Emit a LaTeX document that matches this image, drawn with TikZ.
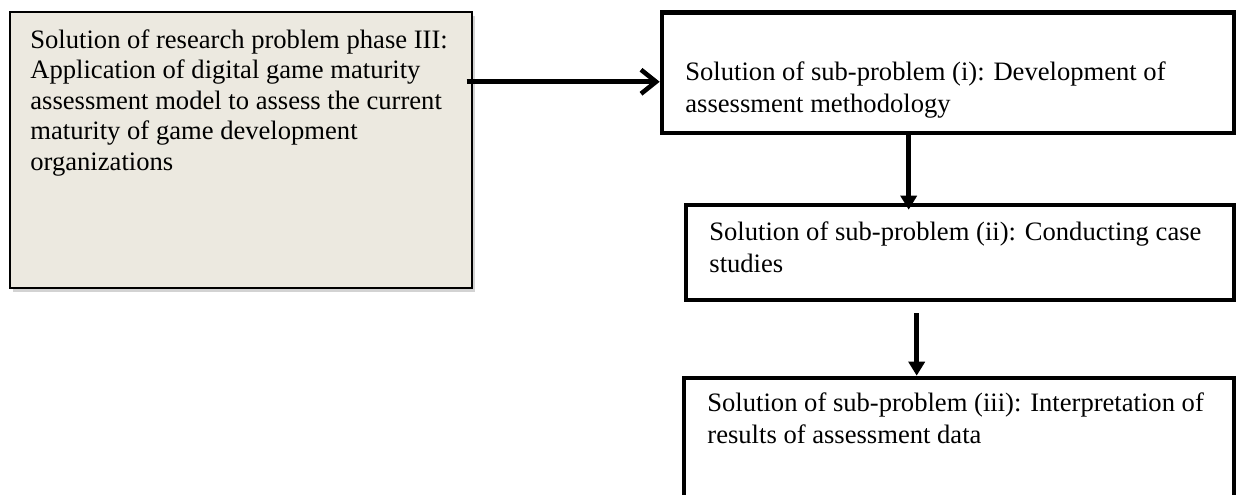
\documentclass[tikz,border=0pt]{standalone}
\usepackage{fontspec}
\setmainfont{Liberation Serif}
\newfontfamily\boxserif{Liberation Serif}
\usetikzlibrary{arrows.meta,shadows,calc}
\definecolor{paper}{HTML}{ECE9E0}
\begin{document}
\begin{tikzpicture}[x=0.5pt,y=-0.5pt,
  phasebox/.style={draw=black, line width=0.7pt, fill=paper, inner sep=0pt,
    drop shadow={shadow xshift=1.5pt, shadow yshift=-2pt, opacity=0.35}},
  subbox/.style={draw=black, line width=2.3pt, fill=white, inner sep=0pt},
  % anchored at the baseline of the last line
  boxtext/.style={anchor=base west, inner sep=0pt, align=left,
    font=\boxserif\fontsize{13.3pt}{16pt}\selectfont},
  flowh/.style={line width=2.4pt, -{Straight Barb[length=7.5pt,width=12pt,line width=2.3pt]}},
  flowv/.style={line width=2.5pt, -{Triangle[length=7pt,width=8pt]}}
]
\useasboundingbox (0,0) rectangle (1238,494);
\clip (0,0) rectangle (1238,494);

% research problem phase III
\node[phasebox, minimum width=231pt, minimum height=138pt] (A) at (241,150) {};
\node[boxtext, font=\boxserif\fontsize{13.3pt}{15.25pt}\selectfont] (ta) at (30,170)
  {Solution of research problem phase III:\\
   Application of digital game maturity\\
   assessment model to assess the current\\
   maturity of game development\\
   organizations};

% sub-problems
\node[subbox, minimum width=286pt, minimum height=60.25pt] (B) at (948,72.75) {};
\node[boxtext] (tb) at (685,112)
  {Solution of sub-problem (i): Development of\\
   assessment methodology};

\node[subbox, minimum width=274pt, minimum height=47.5pt] (C) at (960,252.5) {};
\node[boxtext] (tc) at (709,272)
  {Solution of sub-problem (ii): Conducting case\\
   studies};

\node[subbox, minimum width=275pt, minimum height=76pt] (D) at (959,454) {};
\node[boxtext] (td) at (707,443)
  {Solution of sub-problem (iii): Interpretation of\\
   results of assessment data};

% connectors
\coordinate (a1) at ($([xshift=-3pt]A.north east)!0.254!([xshift=-3pt]A.south east)$);
\draw[flowh] (a1) -- (a1 -| B.west);

\coordinate (a2) at ($(B.south west)+(249,0)$);
\draw[flowv] (a2) -- ($(a2 |- C.north)+(0,7)$);

\coordinate (a3) at ($(C.south west)+(233,11)$);
\draw[flowv] (a3) -- (a3 |- D.north);
\end{tikzpicture}
\end{document}
